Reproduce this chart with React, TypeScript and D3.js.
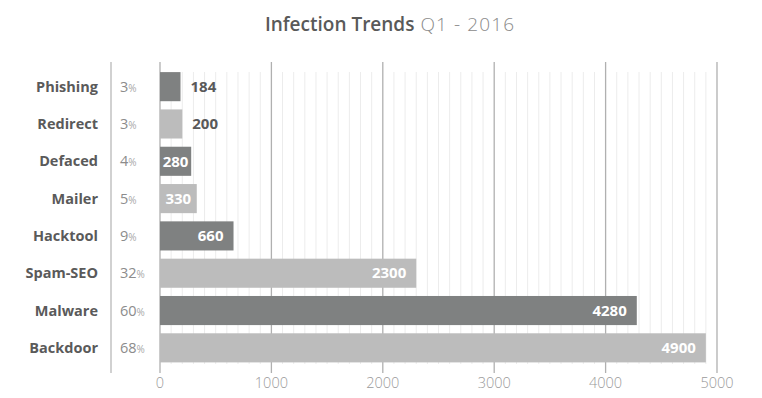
import * as d3 from "d3";

const categories = ["Phishing", "Redirect", "Defaced", "Mailer", "Hacktool", "Spam-SEO", "Malware", "Backdoor"];
const values = [184, 200, 280, 330, 660, 2300, 4280, 4900];
const percents = [3, 3, 4, 5, 9, 32, 60, 68];
const ticks = [0, 1000, 2000, 3000, 4000, 5000];

const W = 762;
const H = 398;
const font = "'Open Sans', 'Noto Sans', sans-serif";

export default function App() {
  const x = d3.scaleLinear().domain([0, 5000]).range([160, 717]);
  const y = d3.scaleBand<string>().domain(categories).range([68, 366.5]).paddingInner(0.22).paddingOuter(0.11);
  const minor = d3.range(100, 5000, 100).filter((v) => v % 1000 !== 0);
  const bh = y.bandwidth();

  return (
    <svg width={W} height={H} style={{ position: "absolute", left: 0, top: 0, background: "#fff" }} fontFamily={font}>
      <text x={W / 2 + 9} y={31} textAnchor="middle" fontSize={19}>
        <tspan fill="#595959" fontWeight={600}>Infection Trends</tspan>
        <tspan fill="#8a8a8a" fontWeight={300} letterSpacing={1.1}> Q1 - 2016</tspan>
      </text>

      {/* minor grid */}
      {minor.map((v) => (
        <line key={v} x1={x(v)} x2={x(v)} y1={72} y2={364} stroke="#ececec" strokeWidth={1} />
      ))}
      {/* major grid */}
      {ticks.map((v) => (
        <line key={v} x1={x(v)} x2={x(v)} y1={62} y2={373} stroke="#b0b0b0" strokeWidth={1.3} />
      ))}
      <line x1={111} x2={111} y1={62} y2={373} stroke="#b8b8b8" strokeWidth={1.3} />

      {ticks.map((v) => (
        <text key={v} x={x(v)} y={388} textAnchor="middle" fontSize={14.5} fontWeight={300} fill="#9a9a9a">
          {v}
        </text>
      ))}

      {categories.map((c, i) => {
        const yc = (y(c) ?? 0) + bh / 2;
        const v = values[i];
        const bw = x(v) - x(0);
        const label = String(v);
        const tw = label.length * 9.2;
        const inside = bw > 28;
        const pad = Math.max(2, Math.min(10, (bw - tw) / 2 + 1));
        return (
          <g key={c}>
            <rect x={x(0)} y={y(c)} width={bw} height={bh} fill={i % 2 === 0 ? "#7f8181" : "#bcbcbc"} />
            <text x={98} y={yc} dy="0.35em" textAnchor="end" fontSize={14.5} fontWeight={700} fill="#5a5a5a">
              {c}
            </text>
            <text x={120} y={yc} dy="0.35em" fill="#8c8c8c" fontSize={14.5}>
              {percents[i]}
              <tspan fontSize={10} fill="#a8a8a8">%</tspan>
            </text>
            {inside ? (
              <text x={x(v) - pad} y={yc} dy="0.35em" textAnchor="end" fontSize={15} fontWeight={700} fill="#fff">
                {label}
              </text>
            ) : (
              <text x={x(v) + 10} y={yc} dy="0.35em" fontSize={15} fontWeight={700} fill="#595959">
                {label}
              </text>
            )}
          </g>
        );
      })}
    </svg>
  );
}
